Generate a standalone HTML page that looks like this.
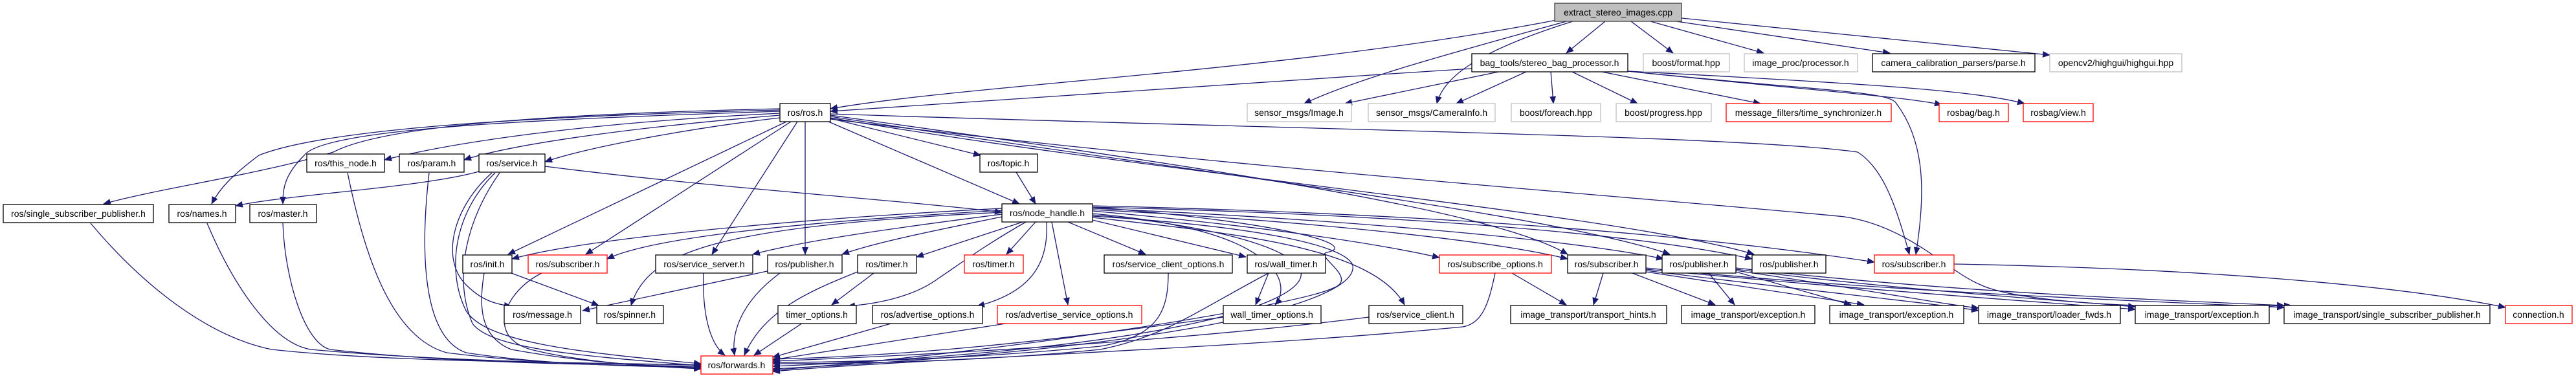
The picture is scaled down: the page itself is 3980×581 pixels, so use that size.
<!DOCTYPE html>
<html><head><meta charset="utf-8"><style>
html,body{margin:0;padding:0;background:#fff;}
svg{display:block;}
text{font-family:"Liberation Sans",sans-serif;font-size:14px;fill:#000;text-anchor:middle;}
.e{fill:none;stroke:#191970;stroke-width:1.3;marker-end:url(#a);}
.n{fill:#fff;stroke:#000;stroke-width:1.3;}
.g{fill:#fff;stroke:#bfbfbf;stroke-width:1.3;}
.r{fill:#fff;stroke:#ff0000;stroke-width:1.3;}
</style></head><body>
<svg width="3980" height="581" viewBox="0 0 3980 581" xmlns="http://www.w3.org/2000/svg">
<defs><marker id="a" markerUnits="userSpaceOnUse" markerWidth="12" markerHeight="10" refX="11" refY="5" orient="auto"><path d="M0,0 L12,5 L0,10 z" fill="#191970"/></marker></defs>
<g>
<!-- extract -> -->
<path class="e" d="M2410,30 C2000,110 1500,130 1283,168"/>
<path class="e" d="M2420,33 C2250,80 2100,120 2015,160"/>
<path class="e" d="M2430,33 C2280,80 2230,120 2220,160"/>
<path class="e" d="M2480,33 L2420,82"/>
<path class="e" d="M2520,33 L2585,82"/>
<path class="e" d="M2550,33 L2725,82"/>
<path class="e" d="M2590,33 L2920,82"/>
<path class="e" d="M2598,28 L3167,85"/>
<!-- bag -> -->
<path class="e" d="M2274,106 C1900,130 1500,155 1283,172"/>
<path class="e" d="M2320,110 L2078,160"/>
<path class="e" d="M2360,110 L2250,160"/>
<path class="e" d="M2396,110 L2400,160"/>
<path class="e" d="M2427,110 L2530,160"/>
<path class="e" d="M2470,110 L2720,160"/>
<path class="e" d="M2515,110 C2800,140 2950,150 3000,162"/>
<path class="e" d="M2515,110 C2900,130 3050,140 3128,160"/>
<path class="e" d="M2515,110 C2800,140 2920,140 2930,160 C2975,220 2975,300 2960,393"/>
<!-- ros.h -> -->
<path class="e" d="M1205,168 C900,175 600,190 515,235 C400,270 250,290 160,315"/>
<path class="e" d="M1205,170 C800,180 500,200 400,240 C360,270 340,290 327,315"/>
<path class="e" d="M1205,172 C800,185 500,200 470,240 C440,270 437,290 437,315"/>
<path class="e" d="M1205,175 C900,190 700,220 594,247"/>
<path class="e" d="M1205,178 C1000,195 800,220 717,247"/>
<path class="e" d="M1205,182 C1050,200 900,230 842,250"/>
<path class="e" d="M1215,188 L785,393"/>
<path class="e" d="M1222,188 L905,393"/>
<path class="e" d="M1232,188 L1100,393"/>
<path class="e" d="M1244,188 L1244,393"/>
<path class="e" d="M1283,183 L1515,240"/>
<path class="e" d="M1280,188 L1575,315"/>
<path class="e" d="M1283,176 C2000,200 2700,210 2870,235 C2910,260 2930,320 2950,393"/>
<path class="e" d="M1283,178 C1800,250 2300,320 2422,393"/>
<path class="e" d="M1283,180 C1800,260 2400,330 2580,393"/>
<path class="e" d="M1283,182 C1800,270 2500,330 2710,393"/>
<path class="e" d="M1283,184 C1900,260 2600,310 2850,335 C2950,350 3010,420 3060,440 C3100,460 3250,480 3540,472"/>
<!-- service.h -> -->
<path class="e" d="M740,265 C650,290 450,300 364,318"/>
<path class="e" d="M842,257 C1100,290 1400,310 1548,328"/>
<path class="e" d="M760,267 C700,320 680,400 720,440 C740,460 760,470 790,473"/>
<path class="e" d="M765,267 C700,330 690,420 720,480 C750,530 900,545 1083,562"/>
<path class="e" d="M772,267 C720,340 700,430 730,500 C760,540 900,550 1083,565"/>
<!-- to forwards from left -->
<path class="e" d="M140,345 C220,440 320,520 420,540 C600,560 900,560 1083,564"/>
<path class="e" d="M320,345 C360,440 420,530 480,540 C700,560 950,562 1083,564"/>
<path class="e" d="M437,345 C440,430 470,530 510,540 C700,562 950,564 1083,566"/>
<path class="e" d="M537,267 C560,380 600,520 690,545 C850,565 1000,566 1083,566"/>
<path class="e" d="M663,267 C650,380 650,520 720,545 C850,565 1000,566 1083,568"/>
<path class="e" d="M748,422 C740,470 740,520 790,540 C900,560 1000,566 1083,568"/>
<path class="e" d="M837,422 C780,450 750,520 820,540 C900,560 1000,566 1083,570"/>
<path class="e" d="M790,422 L925,472"/>
<!-- topic -->
<path class="e" d="M1570,266 L1600,315"/>
<!-- nh -> -->
<path class="e" d="M1548,322 C1200,340 900,370 791,400"/>
<path class="e" d="M1548,325 C1200,345 1000,370 938,400"/>
<path class="e" d="M1548,328 C1100,350 1000,390 975,472"/>
<path class="e" d="M1548,331 C1400,350 1250,370 1163,393"/>
<path class="e" d="M1548,335 C1450,355 1350,375 1301,393"/>
<path class="e" d="M1580,343 L1416,397"/>
<path class="e" d="M1600,343 L1555,393"/>
<path class="e" d="M1585,343 C1520,380 1480,410 1450,430 C1410,460 1350,470 1310,473"/>
<path class="e" d="M1617,343 C1620,400 1600,450 1510,473"/>
<path class="e" d="M1625,343 L1650,471"/>
<path class="e" d="M1650,343 L1770,393"/>
<path class="e" d="M1688,340 L1925,397"/>
<path class="e" d="M1688,330 C1800,340 1900,360 1950,400 C1990,430 1980,460 1970,471"/>
<path class="e" d="M1688,332 C1850,345 2000,380 2010,420 C2020,470 1800,540 1194,566"/>
<path class="e" d="M1688,334 C1950,350 2080,380 2090,410 C2100,470 1800,540 1194,570"/>
<path class="e" d="M1688,336 C1900,360 2120,380 2170,471"/>
<path class="e" d="M1688,326 C1900,345 2100,370 2224,398"/>
<path class="e" d="M1688,324 C2000,340 2300,370 2422,400"/>
<path class="e" d="M1688,322 C2000,335 2400,365 2570,400"/>
<path class="e" d="M1688,320 C2100,330 2500,355 2707,400"/>
<path class="e" d="M1688,318 C2200,330 2600,360 2896,405"/>
<path class="e" d="M1688,320 C2000,345 2100,380 2050,390 C2030,395 2100,430 2060,445 C2010,470 1600,540 1194,572"/>
<!-- row5 -> forwards etc -->
<path class="e" d="M1087,422 C1085,480 1095,530 1120,549"/>
<path class="e" d="M1205,422 C1140,470 1130,520 1135,549"/>
<path class="e" d="M1190,418 L900,480"/>
<path class="e" d="M1325,420 C1250,450 1180,480 1150,549"/>
<path class="e" d="M1350,422 L1285,471"/>
<path class="e" d="M1240,499 L1165,549"/>
<path class="e" d="M1380,499 L1194,552"/>
<path class="e" d="M1560,499 L1194,556"/>
<path class="e" d="M1805,422 C1805,480 1790,520 1700,535 C1500,555 1300,560 1194,560"/>
<path class="e" d="M1960,422 L1940,471"/>
<path class="e" d="M1960,422 C1850,480 1800,520 1700,540 C1500,560 1300,562 1194,562"/>
<path class="e" d="M1890,490 C1600,530 1400,550 1194,555"/>
<path class="e" d="M2115,490 C1800,530 1400,550 1194,558"/>
<path class="e" d="M2310,422 C2300,470 2290,500 2260,505 C1900,540 1400,555 1194,574"/>
<path class="e" d="M2336,422 L2420,471"/>
<!-- sub2 / pub2 -->
<path class="e" d="M2477,422 L2462,471"/>
<path class="e" d="M2522,422 L2650,471"/>
<path class="e" d="M2543,420 L2880,471"/>
<path class="e" d="M2543,418 C2800,450 3000,470 3057,480"/>
<path class="e" d="M2543,416 C2900,450 3200,470 3299,478"/>
<path class="e" d="M2543,414 C2900,450 3300,465 3529,475"/>
<path class="e" d="M2640,422 L2680,471"/>
<path class="e" d="M2682,420 L2860,471"/>
<path class="e" d="M2682,418 C2900,450 3000,470 3057,476"/>
<path class="e" d="M2682,416 C2950,450 3200,465 3299,474"/>
<path class="e" d="M2682,414 C3000,450 3300,462 3529,472"/>
<path class="e" d="M3019,408 C3400,415 3700,440 3871,475"/>
</g>
<!-- nodes -->
<rect x="2402" y="5" width="196" height="28" fill="#bfbfbf" stroke="#404040" stroke-width="1.3"/><text x="2500" y="24">extract_stereo_images.cpp</text>
<rect class="n" x="2274" y="83" width="241" height="28"/><text x="2394" y="102">bag_tools/stereo_bag_processor.h</text>
<rect class="g" x="2539" y="83" width="133" height="28"/><text x="2605" y="102">boost/format.hpp</text>
<rect class="g" x="2695" y="83" width="175" height="28"/><text x="2782" y="102">image_proc/processor.h</text>
<rect class="n" x="2893" y="83" width="251" height="28"/><text x="3018" y="102">camera_calibration_parsers/parse.h</text>
<rect class="g" x="3167" y="83" width="204" height="28"/><text x="3269" y="102">opencv2/highgui/highgui.hpp</text>
<rect class="n" x="1205" y="160" width="78" height="28"/><text x="1244" y="179">ros/ros.h</text>
<rect class="g" x="1927" y="160" width="161" height="28"/><text x="2007" y="179">sensor_msgs/Image.h</text>
<rect class="g" x="2114" y="160" width="196" height="28"/><text x="2212" y="179">sensor_msgs/CameraInfo.h</text>
<rect class="g" x="2335" y="160" width="138" height="28"/><text x="2404" y="179">boost/foreach.hpp</text>
<rect class="g" x="2497" y="160" width="147" height="28"/><text x="2570" y="179">boost/progress.hpp</text>
<rect class="r" x="2667" y="160" width="255" height="28"/><text x="2794" y="179">message_filters/time_synchronizer.h</text>
<rect class="r" x="2996" y="160" width="107" height="28"/><text x="3049" y="179">rosbag/bag.h</text>
<rect class="r" x="3126" y="160" width="108" height="28"/><text x="3180" y="179">rosbag/view.h</text>
<rect class="n" x="474" y="238" width="120" height="28"/><text x="534" y="257">ros/this_node.h</text>
<rect class="n" x="617" y="238" width="100" height="28"/><text x="667" y="257">ros/param.h</text>
<rect class="n" x="740" y="238" width="102" height="28"/><text x="791" y="257">ros/service.h</text>
<rect class="n" x="1514" y="238" width="89" height="28"/><text x="1558" y="257">ros/topic.h</text>
<rect class="n" x="5" y="316" width="232" height="28"/><text x="121" y="335">ros/single_subscriber_publisher.h</text>
<rect class="n" x="261" y="316" width="103" height="28"/><text x="312" y="335">ros/names.h</text>
<rect class="n" x="386" y="316" width="103" height="28"/><text x="437" y="335">ros/master.h</text>
<rect class="n" x="1548" y="315" width="140" height="28"/><text x="1618" y="334">ros/node_handle.h</text>
<rect class="n" x="715" y="394" width="76" height="28"/><text x="753" y="413">ros/init.h</text>
<rect class="r" x="816" y="394" width="122" height="28"/><text x="877" y="413">ros/subscriber.h</text>
<rect class="n" x="1013" y="394" width="150" height="28"/><text x="1088" y="413">ros/service_server.h</text>
<rect class="n" x="1186" y="394" width="115" height="28"/><text x="1243" y="413">ros/publisher.h</text>
<rect class="n" x="1325" y="394" width="91" height="28"/><text x="1370" y="413">ros/timer.h</text>
<rect class="r" x="1490" y="394" width="91" height="28"/><text x="1535" y="413">ros/timer.h</text>
<rect class="n" x="1706" y="394" width="198" height="28"/><text x="1805" y="413">ros/service_client_options.h</text>
<rect class="n" x="1927" y="394" width="121" height="28"/><text x="1987" y="413">ros/wall_timer.h</text>
<rect class="r" x="2224" y="394" width="173" height="28"/><text x="2310" y="413">ros/subscribe_options.h</text>
<rect class="n" x="2422" y="394" width="121" height="28"/><text x="2482" y="413">ros/subscriber.h</text>
<rect class="n" x="2568" y="394" width="114" height="28"/><text x="2625" y="413">ros/publisher.h</text>
<rect class="n" x="2707" y="394" width="114" height="28"/><text x="2764" y="413">ros/publisher.h</text>
<rect class="r" x="2896" y="394" width="123" height="28"/><text x="2957" y="413">ros/subscriber.h</text>
<rect class="n" x="779" y="472" width="118" height="28"/><text x="838" y="491">ros/message.h</text>
<rect class="n" x="922" y="472" width="103" height="28"/><text x="973" y="491">ros/spinner.h</text>
<rect class="n" x="1202" y="472" width="121" height="28"/><text x="1262" y="491">timer_options.h</text>
<rect class="n" x="1348" y="472" width="170" height="28"/><text x="1433" y="491">ros/advertise_options.h</text>
<rect class="r" x="1541" y="472" width="223" height="28"/><text x="1652" y="491">ros/advertise_service_options.h</text>
<rect class="n" x="1890" y="472" width="151" height="28"/><text x="1965" y="491">wall_timer_options.h</text>
<rect class="n" x="2115" y="472" width="145" height="28"/><text x="2187" y="491">ros/service_client.h</text>
<rect class="n" x="2334" y="472" width="241" height="28"/><text x="2454" y="491">image_transport/transport_hints.h</text>
<rect class="n" x="2598" y="472" width="206" height="28"/><text x="2701" y="491">image_transport/exception.h</text>
<rect class="n" x="2827" y="472" width="207" height="28"/><text x="2930" y="491">image_transport/exception.h</text>
<rect class="n" x="3057" y="472" width="219" height="28"/><text x="3166" y="491">image_transport/loader_fwds.h</text>
<rect class="n" x="3299" y="472" width="207" height="28"/><text x="3402" y="491">image_transport/exception.h</text>
<rect class="n" x="3529" y="472" width="318" height="28"/><text x="3688" y="491">image_transport/single_subscriber_publisher.h</text>
<rect class="r" x="3871" y="472" width="103" height="28"/><text x="3922" y="491">connection.h</text>
<rect class="r" x="1083" y="550" width="111" height="28"/><text x="1138" y="569">ros/forwards.h</text>
</svg>
</body></html>
